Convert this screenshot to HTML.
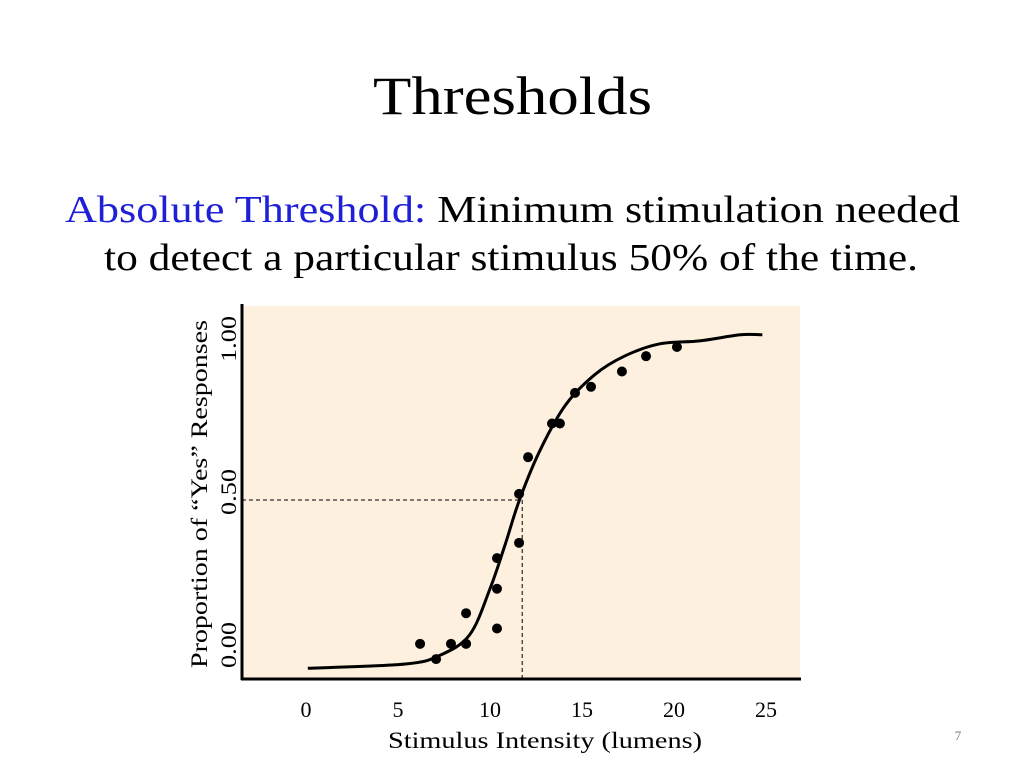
<!DOCTYPE html>
<html><head><meta charset="utf-8"><style>
body{margin:0;width:1024px;height:768px;background:#fff;overflow:hidden;font-family:"Liberation Serif",serif}
</style></head><body>
<svg width="1024" height="768" style="position:absolute;left:0;top:0">
<text x="373" y="114" textLength="279" lengthAdjust="spacingAndGlyphs" font-size="54">Thresholds</text>
<text x="65" y="222" textLength="895" lengthAdjust="spacingAndGlyphs" font-size="38"><tspan fill="#1f1fd8">Absolute Threshold:</tspan> Minimum stimulation needed</text>
<text x="104" y="270" textLength="814" lengthAdjust="spacingAndGlyphs" font-size="38">to detect a particular stimulus 50% of the time.</text>
<rect x="242" y="306" width="558" height="373" fill="#fdf0df"/>
<g id="plot"></g>
<line x1="242" y1="304" x2="242" y2="680" stroke="#000" stroke-width="3"/>
<line x1="241" y1="679" x2="801" y2="679" stroke="#000" stroke-width="3"/>
<g id="xt" font-size="22" text-anchor="middle"></g>
<g id="yt" font-size="22"></g>
<text x="388" y="748" textLength="314" lengthAdjust="spacingAndGlyphs" font-size="23">Stimulus Intensity (lumens)</text>
<text transform="translate(207,668) rotate(-90)" textLength="348" lengthAdjust="spacingAndGlyphs" font-size="23">Proportion of “Yes” Responses</text>
<text x="958" y="740" text-anchor="middle" font-size="13" fill="#777">7</text>
</svg>
<script>
const xTicks=[0,5,10,15,20,25];
const yTicks=[0,0.5,1];
const yTickLabels=["0.00","0.50","1.00"];
const dotX=[6.2,7.07,7.88,8.7,8.7,10.38,10.38,10.38,11.58,11.58,12.07,13.37,13.8,14.62,15.49,17.17,18.48,20.16];
const dotY=[0.03,-0.02,0.03,0.03,0.13,0.08,0.21,0.31,0.36,0.52,0.64,0.75,0.75,0.85,0.87,0.92,0.97,1.0];
const curveX=[0.1,5.4,7.3,8.9,10,10.8,11.6,12.7,14.1,15.7,17.3,19.2,21.4,23.6,24.8];
const curveY=[-0.05,-0.036,-0.007,0.06,0.21,0.35,0.5,0.66,0.81,0.91,0.97,1.01,1.02,1.04,1.04];
const threshold=[11.75,0.5];
const sx=v=>306+v*18.4, sy=v=>653-v*306;
const NS="http://www.w3.org/2000/svg";
const plot=document.getElementById('plot');
function mk(tag,attrs,parent){const e=document.createElementNS(NS,tag);for(const k in attrs)e.setAttribute(k,attrs[k]);parent.appendChild(e);return e;}
let h=mk('line',{x1:242,y1:sy(threshold[1]),x2:sx(threshold[0]),y2:sy(threshold[1]),stroke:'#000','stroke-width':1,'stroke-dasharray':'4,3'},plot);


let v=mk('line',{x1:sx(threshold[0]),y1:sy(threshold[1]),x2:sx(threshold[0]),y2:679,stroke:'#000','stroke-width':1,'stroke-dasharray':'4,3'},plot);


const P=curveX.map((x,i)=>[sx(x),sy(curveY[i])]);
let d='M'+P[0][0]+','+P[0][1];
for(let i=0;i<P.length-1;i++){
 const p0=P[i-1]||P[i],p1=P[i],p2=P[i+1],p3=P[i+2]||p2;
 const c1=[p1[0]+(p2[0]-p0[0])/6,p1[1]+(p2[1]-p0[1])/6];
 const c2=[p2[0]-(p3[0]-p1[0])/6,p2[1]-(p3[1]-p1[1])/6];
 d+=`C${c1[0]},${c1[1]} ${c2[0]},${c2[1]} ${p2[0]},${p2[1]}`;
}
let p=mk('path',{d:d,fill:'none',stroke:'#000','stroke-width':3,'stroke-linejoin':'round'},plot);


dotX.forEach((x,i)=>{
 let c=mk('circle',{cx:sx(x),cy:sy(dotY[i]),r:5,fill:'#000'},plot);
 
 
});
const xt=document.getElementById('xt');
xTicks.forEach(t=>{let e=mk('text',{x:sx(t),y:717},xt);e.textContent=t;
 
 });
const yt=document.getElementById('yt');
yTicks.forEach((t,i)=>{let y=sy(t)-8+23;let e=mk('text',{transform:`translate(236,${y}) rotate(-90)`,textLength:46,lengthAdjust:'spacingAndGlyphs'},yt);e.textContent=yTickLabels[i];
 
 });
</script>
</body></html>
